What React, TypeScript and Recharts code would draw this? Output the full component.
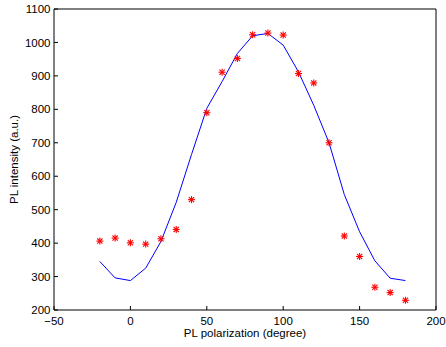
import { ComposedChart, Line, Scatter, XAxis, YAxis } from "recharts";

// polarization angle (degree)
const angles = [-20, -10, 0, 10, 20, 30, 40, 50, 60, 70, 80, 90, 100, 110, 120, 130, 140, 150, 160, 170, 180];

// measured PL intensity (red asterisks)
const measured = [406, 415, 401, 397, 413, 441, 530, 790, 911, 952, 1023, 1028, 1022, 907, 879, 700, 421, 360, 268, 252, 229];

// fitted curve (blue line)
const fitted = [345, 296, 288, 325, 405, 522, 665, 803, 883, 967, 1020, 1027, 992, 912, 812, 700, 545, 434, 347, 295, 288];

const xTicks = [-50, 0, 50, 100, 150, 200];
const yTicks = [200, 300, 400, 500, 600, 700, 800, 900, 1000, 1100];

const data = angles.map((x, i) => ({ x, meas: measured[i], fit: fitted[i] }));

const FONT = "'Liberation Sans', Arial, Helvetica, sans-serif";
const tickStyle = { fontSize: 11.5, fill: "#000", fontFamily: FONT };
const axisLine = { stroke: "#000", strokeWidth: 1 };
const tickLine = { stroke: "#000", strokeWidth: 1 };

const minus = (v: number) => String(v).replace("-", "\u2212");

// MATLAB style '*' marker
function Asterisk(props: any) {
  const { cx, cy } = props;
  if (cx == null || cy == null) return null;
  const r = 3.5;
  const d = 2.6;
  return (
    <g stroke="#ff0000" strokeWidth={1.1}>
      <line x1={cx - r} y1={cy} x2={cx + r} y2={cy} />
      <line x1={cx} y1={cy - r} x2={cx} y2={cy + r} />
      <line x1={cx - d} y1={cy - d} x2={cx + d} y2={cy + d} />
      <line x1={cx - d} y1={cy + d} x2={cx + d} y2={cy - d} />
    </g>
  );
}

function YLabel() {
  return (
    <text
      transform="translate(17.5,159.5) rotate(-90)"
      textAnchor="middle"
      fontSize={11.5}
      fontFamily={FONT}
      fill="#000"
    >
      PL intensity (a.u.)
    </text>
  );
}

export default function App() {
  return (
    <div style={{ position: "absolute", left: 0, top: 0, width: 446, height: 347, background: "#fff" }}>
      <ComposedChart
        width={446}
        height={347}
        data={data}
        margin={{ top: 8, right: 9, bottom: 0, left: 0 }}
      >
        {/* bottom / left axes with labels, ticks pointing inward */}
        <XAxis
          dataKey="x"
          type="number"
          domain={[-50, 200]}
          ticks={xTicks}
          tickFormatter={minus}
          height={37}
          tickSize={-4}
          tickMargin={11}
          tick={tickStyle}
          axisLine={axisLine}
          tickLine={tickLine}
          label={{
            value: "PL polarization (degree)",
            position: "insideBottom",
            offset: 10,
            style: { fontSize: 11.5, fill: "#000", fontFamily: FONT },
          }}
        />
        <YAxis
          type="number"
          domain={[200, 1100]}
          ticks={yTicks}
          width={54}
          tickSize={-4}
          tickMargin={7.5}
          tick={tickStyle}
          axisLine={axisLine}
          tickLine={tickLine}
          label={<YLabel />}
        />

        {/* top / right box edges */}
        <XAxis
          xAxisId="top"
          dataKey="x"
          type="number"
          orientation="top"
          domain={[-50, 200]}
          ticks={xTicks}
          height={1}
          tickSize={-4}
          tick={false}
          axisLine={axisLine}
          tickLine={tickLine}
        />
        <YAxis
          yAxisId="right"
          type="number"
          orientation="right"
          domain={[200, 1100]}
          ticks={yTicks}
          width={1}
          tickSize={-4}
          tick={false}
          axisLine={axisLine}
          tickLine={tickLine}
        />

        <Scatter dataKey="meas" shape={<Asterisk />} isAnimationActive={false} />
        <Line
          type="linear"
          dataKey="fit"
          stroke="#0000ff"
          strokeWidth={1}
          dot={false}
          activeDot={false}
          isAnimationActive={false}
        />
        {/* hidden series so the box axes get drawn */}
        <Line
          xAxisId="top"
          yAxisId="right"
          type="linear"
          dataKey="fit"
          stroke="none"
          dot={false}
          activeDot={false}
          isAnimationActive={false}
        />
      </ComposedChart>
    </div>
  );
}
